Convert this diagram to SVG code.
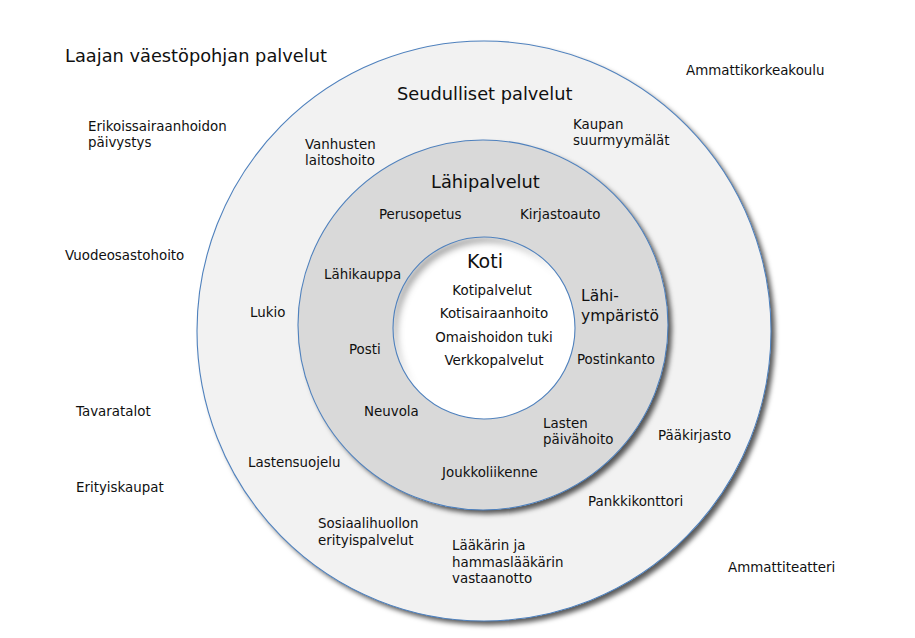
<svg xmlns="http://www.w3.org/2000/svg" width="915" height="638" viewBox="0 0 915 638">
<style>
text{font-family:"DejaVu Sans","Liberation Sans",sans-serif;fill:#101010;font-size:13.4px}
.big{font-size:17.8px}
.mid{font-size:15.5px}
.c{text-anchor:middle}
.ring{stroke:#4f81bd;stroke-width:1.1}
</style>
<defs>
<filter id="drop" x="-10%" y="-10%" width="125%" height="125%">
<feGaussianBlur in="SourceAlpha" stdDeviation="2.4" result="b"/>
<feOffset in="b" dx="3.5" dy="4" result="o"/>
<feFlood flood-color="#000" flood-opacity="0.65"/>
<feComposite in2="o" operator="in" result="s"/>
<feMerge><feMergeNode in="s"/><feMergeNode in="SourceGraphic"/></feMerge>
</filter>
<filter id="inset" x="-10%" y="-10%" width="120%" height="120%">
<feOffset in="SourceAlpha" dx="4" dy="5" result="o"/>
<feComposite in="SourceAlpha" in2="o" operator="out" result="d"/>
<feGaussianBlur in="d" stdDeviation="3.5" result="b"/>
<feFlood flood-color="#5a5a5a" flood-opacity="0.9"/>
<feComposite in2="b" operator="in" result="s"/>
<feComposite in="s" in2="SourceAlpha" operator="in" result="s2"/>
<feMerge><feMergeNode in="SourceGraphic"/><feMergeNode in="s2"/></feMerge>
</filter>
</defs>
<rect width="915" height="638" fill="#fff"/>
<g id="seudulliset">
<ellipse cx="484" cy="331" rx="287" ry="290" fill="#f2f2f2" filter="url(#drop)"/>
<ellipse class="ring" cx="484" cy="331" rx="287" ry="290" fill="none"/>
</g>
<g id="lahipalvelut">
<circle cx="483" cy="325" r="185" fill="#d9d9d9" filter="url(#drop)"/>
<circle class="ring" cx="483" cy="325" r="185" fill="none"/>
</g>
<g id="koti">
<circle cx="484" cy="328" r="91" fill="#fff" filter="url(#inset)"/>
<circle class="ring" cx="484" cy="328" r="91" fill="none"/>
</g>
<g id="connectors"/>
<g id="laajan-labels">
<text class="big" x="65" y="62">Laajan väestöpohjan palvelut</text>
<text x="686" y="75">Ammattikorkeakoulu</text>
<text x="88" y="131">Erikoissairaanhoidon</text>
<text x="88" y="147">päivystys</text>
<text x="65" y="260">Vuodeosastohoito</text>
<text x="76" y="416">Tavaratalot</text>
<text x="76" y="492">Erityiskaupat</text>
<text x="728" y="572">Ammattiteatteri</text>
</g>
<g id="seudulliset-labels">
<text class="big" x="397" y="100">Seudulliset palvelut</text>
<text x="305" y="149">Vanhusten</text>
<text x="305" y="165">laitoshoito</text>
<text x="573" y="129">Kaupan</text>
<text x="573" y="145">suurmyymälät</text>
<text x="250" y="317">Lukio</text>
<text x="658" y="440">Pääkirjasto</text>
<text x="248" y="467">Lastensuojelu</text>
<text x="588" y="506">Pankkikonttori</text>
<text x="318" y="528">Sosiaalihuollon</text>
<text x="318" y="545">erityispalvelut</text>
<text x="452" y="550">Lääkärin ja</text>
<text x="452" y="567">hammaslääkärin</text>
<text x="452" y="583">vastaanotto</text>
</g>
<g id="lahipalvelut-labels">
<text class="big" x="431" y="188">Lähipalvelut</text>
<text x="379" y="219">Perusopetus</text>
<text x="520" y="219">Kirjastoauto</text>
<text x="324" y="279">Lähikauppa</text>
<text class="mid" x="581" y="301">Lähi-</text>
<text class="mid" x="581" y="321">ympäristö</text>
<text x="349" y="354">Posti</text>
<text x="577" y="364">Postinkanto</text>
<text x="364" y="416">Neuvola</text>
<text x="543" y="428">Lasten</text>
<text x="543" y="444">päivähoito</text>
<text x="442" y="477">Joukkoliikenne</text>
</g>
<g id="koti-labels">
<text class="big c" x="485" y="268" style="font-size:19px">Koti</text>
<text class="c" x="492" y="295">Kotipalvelut</text>
<text class="c" x="494" y="318">Kotisairaanhoito</text>
<text class="c" x="494" y="342">Omaishoidon tuki</text>
<text class="c" x="494" y="365">Verkkopalvelut</text>
</g>
</svg>
